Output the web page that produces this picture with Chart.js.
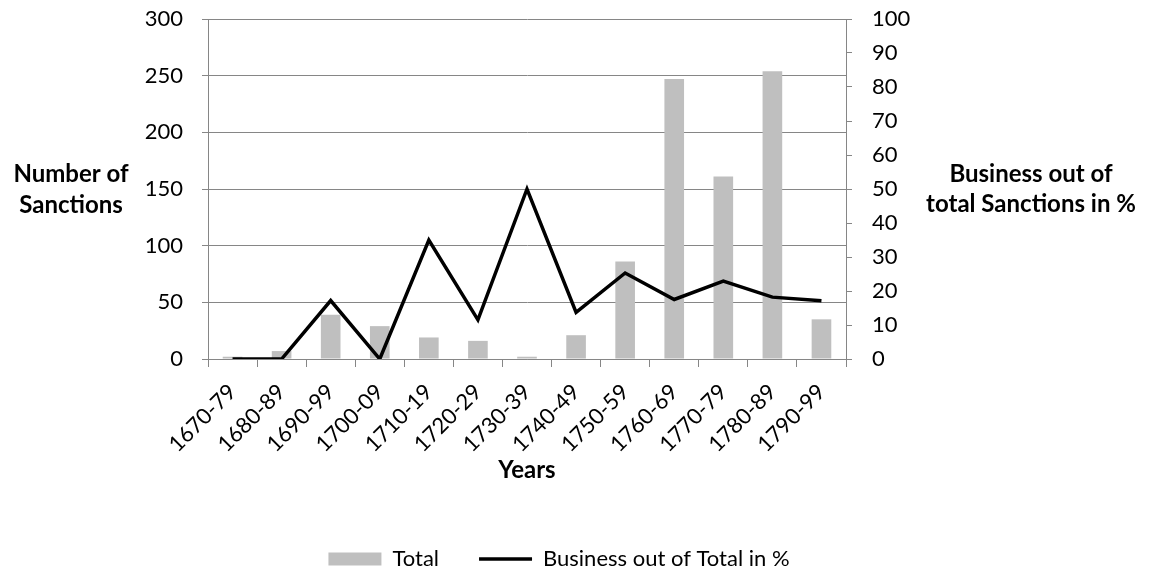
<!DOCTYPE html>
<html><head><meta charset="utf-8">
<script src="https://cdn.jsdelivr.net/npm/chart.js@4.4.0/dist/chart.umd.min.js"></script>
<style>html,body{margin:0;padding:0;background:#fff;}#wrap{width:1150px;height:576px;}</style>
</head><body><div id="wrap"><canvas id="c" width="1150" height="576"></canvas></div>
<script>
const categories = ['1670-79','1680-89','1690-99','1700-09','1710-19','1720-29','1730-39','1740-49','1750-59','1760-69','1770-79','1780-89','1790-99'];
const totals = [2,7,39,29,19,16,2,21,86,247,161,254,35];
const businessPct = [0,0,17.2,0,35,11.5,50,13.7,25.3,17.5,22.9,18.2,17.1];
const seriesNames = ['Total','Business out of Total in %'];
const leftTitle = ['Number of','Sanctions'];
const rightTitle = ['Business out of','total Sanctions in %'];
const xTitle = 'Years';

const FONT = 'Lato';
Chart.defaults.font.family = FONT;
Chart.defaults.font.size = 22;
Chart.defaults.color = '#000';

const AX = '#868686';
const PLOT = {left:208, right:846, top:19, bottom:359};
const PAD_R = 32, PAD_B = -4, PAD_T = 19;

const titlesPlugin = {
  id:'titles',
  afterDraw(chart){
    const ctx = chart.ctx, a = chart.chartArea;
    ctx.save();
    ctx.fillStyle = '#000';
    ctx.font = 'bold 24px ' + FONT;
    ctx.textAlign = 'center';
    ctx.textBaseline = 'middle';
    leftTitle.forEach((t,i)=>ctx.fillText(t, 71, 174 + i*31));
    rightTitle.forEach((t,i)=>ctx.fillText(t, 1031, 174 + i*30));
    ctx.fillText(xTitle, (a.left+a.right)/2, 470);
    ctx.restore();
  }
};

function fixPad(s){ s.paddingTop = 10; s.paddingBottom = 10; }

new Chart(document.getElementById('c'), {
  data: {
    labels: categories,
    datasets: [
      {type:'bar', label: seriesNames[0], data: totals, backgroundColor:'#BFBFBF', borderWidth:0,
       barPercentage:0.4, categoryPercentage:1, yAxisID:'y', order:1},
      {type:'line', label: seriesNames[1], data: businessPct, borderColor:'#000', backgroundColor:'#000',
       borderWidth:3.5, pointRadius:0, tension:0, yAxisID:'y1', order:0}
    ]
  },
  options: {
    responsive:false, animation:false, devicePixelRatio:1,
    layout:{padding:{top:PAD_T, right:PAD_R, bottom:PAD_B, left:0}},
    plugins:{
      tooltip:{enabled:false},
      legend:{position:'bottom',
        labels:{usePointStyle:true, pointStyleWidth:53, boxHeight:13, padding:40, font:{size:22},
          sort:(a,b)=>a.datasetIndex-b.datasetIndex,
          generateLabels(chart){
            return chart.data.datasets.map((d,i)=>({
              text:d.label, datasetIndex:i,
              fillStyle: i===0 ? '#BFBFBF' : '#000',
              strokeStyle: i===0 ? '#BFBFBF' : '#000',
              lineWidth: i===0 ? 0 : 3.5,
              pointStyle: i===0 ? 'rect' : 'line',
              fontColor:'#000', hidden:false
            }));
          }}
      }
    },
    scales:{
      x:{
        grid:{display:true, drawOnChartArea:false, offset:true, color:AX, tickLength:8},
        border:{color:AX},
        ticks:{autoSkip:false, maxRotation:45, minRotation:45, padding:12, font:{size:22}},
        afterFit(s){ s.height = s.chart.height - PAD_B - s.chart.legend.height - PLOT.bottom; }
      },
      y:{
        position:'left', min:0, max:300,
        ticks:{stepSize:50, padding:19, font:{size:22}},
        grid:{color:AX, tickLength:6},
        border:{color:AX},
        afterFit(s){ s.width = PLOT.left; fixPad(s); }
      },
      y1:{
        position:'right', min:0, max:100,
        ticks:{stepSize:10, padding:20, font:{size:22}},
        grid:{drawOnChartArea:false, color:AX, tickLength:6},
        border:{color:AX},
        afterFit(s){ s.width = 1150 - PAD_R - PLOT.right; fixPad(s); }
      }
    }
  },
  plugins:[titlesPlugin]
});
</script></body></html>
